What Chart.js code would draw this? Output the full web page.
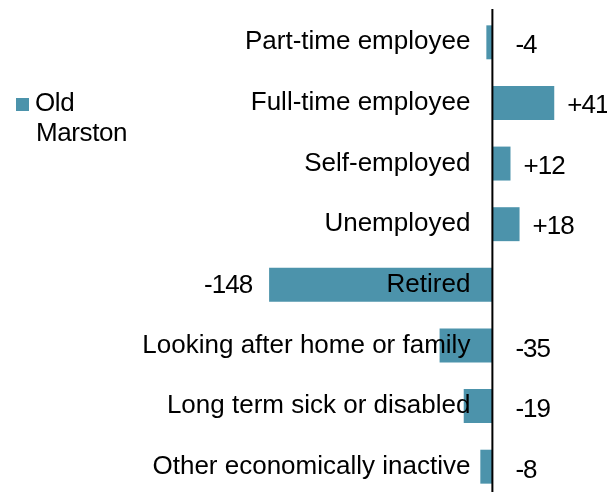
<!DOCTYPE html>
<html>
<head>
<meta charset="utf-8">
<script src="https://cdn.jsdelivr.net/npm/chart.js@4"></script>
<style>
html, body { margin: 0; padding: 0; overflow: hidden; background: #fff; }
#wrap { width: 607px; height: 497px; }
</style>
</head>
<body>
<div id="wrap"><canvas id="grafico"></canvas></div>
<script>
const categorias = [
    'Part-time employee',
    'Full-time employee',
    'Self-employed',
    'Unemployed',
    'Retired',
    'Looking after home or family',
    'Long term sick or disabled',
    'Other economically inactive'
];
const valores = [-4, 41, 12, 18, -148, -35, -19, -8];
const serie = 'Old Marston';
const leyenda = ['Old', 'Marston'];

const color = '#4c93ab';
const familia = '"Liberation Sans", Arial, sans-serif';

function etiqueta(v) {
    return v > 0 ? '+' + v : String(v);
}

const textos = {
    id: 'textos',
    afterDatasetsDraw(chart) {
        const ctx = chart.ctx;
        const x = chart.scales.x;
        const y = chart.scales.y;
        const cero = x.getPixelForValue(0);
        const area = chart.chartArea;

        ctx.save();
        // linea del cero
        ctx.strokeStyle = '#000';
        ctx.lineWidth = 2;
        ctx.beginPath();
        ctx.moveTo(cero, area.top - 3);
        ctx.lineTo(cero, area.bottom);
        ctx.stroke();

        ctx.fillStyle = '#000';
        ctx.textBaseline = 'middle';

        categorias.forEach((c, i) => {
            const yc = y.getPixelForValue(i);
            ctx.font = '26px ' + familia;
            ctx.letterSpacing = '0px';
            ctx.textAlign = 'right';
            ctx.fillText(c, cero - 22, yc);

            const v = valores[i];
            const fin = x.getPixelForValue(v);
            ctx.letterSpacing = '-1px';
            if (v > 0) {
                ctx.textAlign = 'left';
                ctx.fillText(etiqueta(v), fin + 13, yc + 3);
            } else if (v < -100) {
                ctx.textAlign = 'right';
                ctx.fillText(etiqueta(v), fin - 17, yc + 1);
            } else {
                ctx.textAlign = 'left';
                ctx.fillText(etiqueta(v), cero + 23, yc + 4);
            }
        });

        // leyenda
        ctx.fillStyle = color;
        ctx.fillRect(16, 98, 13, 13);
        ctx.fillStyle = '#000';
        ctx.textAlign = 'left';
        ctx.font = '26px ' + familia;
        ctx.letterSpacing = '-0.4px';
        ctx.fillText(leyenda[0], 35, 104);
        ctx.fillText(leyenda[1], 36, 134);
        ctx.restore();
    }
};

new Chart(document.getElementById('grafico'), {
    type: 'bar',
    data: {
        labels: categorias,
        datasets: [{
            label: serie,
            data: valores,
            backgroundColor: color,
            borderWidth: 0,
            barPercentage: 0.56,
            categoryPercentage: 1
        }]
    },
    options: {
        indexAxis: 'y',
        responsive: true,
        maintainAspectRatio: false,
        animation: false,
        layout: {
            padding: { left: 251, right: 9, top: 12, bottom: 0 }
        },
        plugins: {
            legend: { display: false },
            tooltip: { enabled: false }
        },
        scales: {
            x: { display: false, min: -160, max: 70 },
            y: { display: false }
        }
    },
    plugins: [textos]
});
</script>
</body>
</html>
